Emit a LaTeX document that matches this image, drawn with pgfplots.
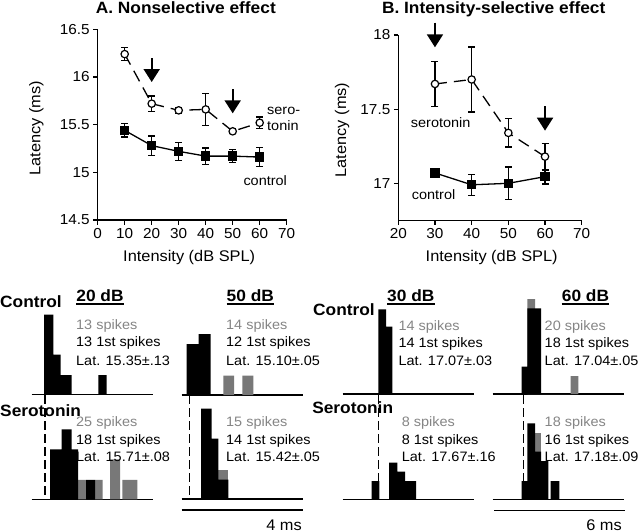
\documentclass[border=0pt]{standalone}
\usepackage{fontspec}
\setmainfont{Liberation Sans}[FakeStretch=1.06]
\usepackage{pgfplots}
\pgfplotsset{compat=1.18}
\usetikzlibrary{arrows.meta}
\definecolor{histgray}{gray}{0.47}
\definecolor{txtgray}{gray}{0.52}
\newcommand\fTick{\fontsize{14.5}{17}\selectfont}
\newcommand\fLab{\fontsize{15.5}{18}\selectfont}
\newcommand\fTxt{\fontsize{13.7}{16}\selectfont}
\newcommand\fBold{\fontsize{16.4}{19}\selectfont\bfseries}
\pgfplotsset{
  lat/.style={scale only axis, anchor=south west, axis lines=left,
    axis line style={-, line width=1.3bp},
    major tick style={line width=1.3bp, black}, tick align=outside,
    major tick length=4.5bp,
    tick label style={font=\fTick},
    /pgf/number format/assume math mode=true, clip=false},
  hist/.style={scale only axis, anchor=south west, axis x line=bottom,
    axis y line=none, axis line style={-, line width=1.3bp},
    xtick=\empty, ytick=\empty, ymin=0, ymax=100, height=100bp, clip=false},
  ctrl/.style={black, line width=1.3bp, mark=square*, mark size=4bp,
    mark options={solid},
    error bars/.cd, y dir=both, y explicit,
    error bar style={line width=1.3bp, solid},
    error mark options={rotate=90, mark size=3.5bp, line width=1.3bp, solid}},
  sero/.style={black, line width=1.3bp, dash pattern=on 12bp off 7bp,
    mark=*, mark size=3.7bp, mark options={solid, fill=white, line width=1.2bp},
    error bars/.cd, y dir=both, y explicit,
    error bar style={line width=1.3bp, solid},
    error mark options={rotate=90, mark size=3.5bp, line width=1.3bp, solid}},
  hblack/.style={ybar interval, fill=black, draw=none},
  hgray/.style={ybar interval, fill=histgray, draw=none},
}
\begin{document}
\begin{tikzpicture}
\path[use as bounding box] (0,0) rectangle (640bp,-532bp);

% ---------- Panel A ----------
\begin{axis}[lat, at={(97.7bp,-220bp)}, width=189bp, height=190.7bp,
  xmin=0, xmax=70, ymin=14.5, ymax=16.5,
  xtick={0,10,...,70}, ytick={14.5,15,15.5,16,16.5}]
\addplot[sero] table[x=x, y=y, y error=e, row sep=\\] {
x y e \\ 10 16.24 0.07 \\ 20 15.72 0.08 \\ 30 15.65 0.03 \\ 40 15.66 0.17 \\ 50 15.43 0.02 \\ 60 15.52 0.06 \\ };
\addplot[ctrl] table[x=x, y=y, y error=e, row sep=\\] {
x y e \\ 10 15.44 0.07 \\ 20 15.28 0.10 \\ 30 15.22 0.095 \\ 40 15.17 0.085 \\ 50 15.17 0.07 \\ 60 15.16 0.10 \\ };
\draw[line width=2bp, -{Triangle[length=13bp, width=16bp]}] (axis cs:20,16.199) -- (axis cs:20,15.947);
\draw[line width=2bp, -{Triangle[length=13bp, width=16bp]}] (axis cs:50,15.871) -- (axis cs:50,15.619);
\end{axis}

% ---------- Panel B ----------
\begin{axis}[lat, at={(398.3bp,-220.4bp)}, width=183.4bp, height=185.4bp,
  xmin=20, xmax=70, ymin=16.75, ymax=18,
  xtick={20,30,...,70}, ytick={17,17.5,18}]
\addplot[sero] table[x=x, y=y, y error=e, row sep=\\] {
x y e \\ 30 17.67 0.15 \\ 40 17.70 0.22 \\ 50 17.34 0.095 \\ 60 17.18 0.09 \\ };
\addplot[ctrl] table[x=x, y=y, y error=e, row sep=\\] {
x y e \\ 30 17.07 0.025 \\ 40 16.99 0.07 \\ 50 17.00 0.11 \\ 60 17.045 0.05 \\ };
\draw[line width=2bp, -{Triangle[length=13bp, width=16bp]}] (axis cs:30,18.083) -- (axis cs:30,17.917);
\draw[line width=2bp, -{Triangle[length=13bp, width=16bp]}] (axis cs:60,17.521) -- (axis cs:60,17.355);
\end{axis}

% ---------- Histograms ----------
\begin{axis}[hist, at={(31.7bp,-394.5bp)}, width=121.6bp, xmin=31.7, xmax=153.3]
\addplot[hblack] coordinates {(44,80) (53.3,40) (60.7,19.5) (71.7,0) (98.3,19.5) (106.7,0)};
\end{axis}
\begin{axis}[hist, at={(181.7bp,-395bp)}, width=121bp, xmin=181.7, xmax=302.7]
\addplot[hgray] coordinates {(223.3,19.5) (234,0) (242.3,19.5) (253.3,0)};
\addplot[hblack] coordinates {(186.7,51) (198.7,61) (210.7,0)};
\end{axis}
\begin{axis}[hist, at={(31.7bp,-499.3bp)}, width=121.6bp, xmin=31.7, xmax=153.3]
\addplot[hgray] coordinates {(78,19.5) (86,0) (95,19.5) (102.7,0) (110,40) (120,0) (122.3,19.5) (137.3,0)};
\addplot[hblack] coordinates {(50,50) (61.7,70) (71.7,50) (78,0) (86,19.5) (95,0)};
\end{axis}
\begin{axis}[hist, at={(181.7bp,-499bp)}, width=121bp, xmin=181.7, xmax=302.7]
\addplot[hgray] coordinates {(218.3,29.5) (228.3,0)};
\addplot[hblack] coordinates {(201,90.5) (211.7,60.5) (218.3,19.5) (228.3,0)};
\end{axis}
\begin{axis}[hist, at={(342.7bp,-394bp)}, width=131.3bp, xmin=342.7, xmax=474]
\addplot[hblack] coordinates {(378.3,84.7) (386,67.3) (392.3,0)};
\end{axis}
\begin{axis}[hist, at={(492.7bp,-394bp)}, width=131.3bp, xmin=492.7, xmax=624]
\addplot[hgray] coordinates {(527.3,95) (535,0) (570.7,18) (578.3,0)};
\addplot[hblack] coordinates {(521.7,27.3) (527.3,85.7) (541,0)};
\end{axis}
\begin{axis}[hist, at={(342.7bp,-499.3bp)}, width=131.3bp, xmin=342.7, xmax=474]
\addplot[hblack] coordinates {(371.7,18.3) (379.3,0) (389,36.7) (397.3,27.7) (405,18.3) (416,0)};
\end{axis}
\begin{axis}[hist, at={(492.7bp,-499.3bp)}, width=131.3bp, xmin=492.7, xmax=624]
\addplot[hgray] coordinates {(535,66) (541,0)};
\addplot[hblack] coordinates {(521.7,18.3) (527.3,76) (535,47.7) (541,38.3) (548.3,0) (550.7,18.3) (559.3,0)};
\end{axis}

% dashed onset lines
\foreach \xx in {45,189.3,378.7,523.3}
  \draw[line width=1.3bp, dash pattern=on 9bp off 4bp] (\xx bp,-395bp) -- (\xx bp,-499bp);
% scale bars
\draw[line width=1.3bp] (181.7bp,-510bp) -- (302.7bp,-510bp);
\draw[line width=1.3bp] (494bp,-510.7bp) -- (625bp,-510.7bp);
\node[anchor=base east, inner sep=0, font=\fLab] at (302bp,-530bp) {4 ms};
\node[anchor=base east, inner sep=0, font=\fLab] at (622bp,-530bp) {6 ms};

% titles and axis labels
\node[anchor=base, inner sep=0, font=\fBold] at (185.8bp,-13.3bp) {A. Nonselective effect};
\node[anchor=base, inner sep=0, font=\fBold] at (493.7bp,-13.3bp) {B. Intensity-selective effect};
\node[anchor=base, inner sep=0, font=\fLab] at (189.2bp,-261.8bp) {Intensity (dB SPL)};
\node[anchor=base, inner sep=0, font=\fLab] at (491.7bp,-261.8bp) {Intensity (dB SPL)};
\node[anchor=base, inner sep=0, font=\fLab, rotate=90] at (40.4bp,-128.3bp) {Latency (ms)};
\node[anchor=base, inner sep=0, font=\fLab, rotate=90] at (346.1bp,-130bp) {Latency (ms)};

% curve labels
\node[anchor=base west, inner sep=0, font=\fTxt] at (267bp,-114bp) {sero-};
\node[anchor=base west, inner sep=0, font=\fTxt] at (267bp,-130.7bp) {tonin};
\node[anchor=base west, inner sep=0, font=\fTxt] at (243.3bp,-185bp) {control};
\node[anchor=base west, inner sep=0, font=\fTxt] at (410.7bp,-127.3bp) {serotonin};
\node[anchor=base west, inner sep=0, font=\fTxt] at (411.7bp,-199bp) {control};

% histogram headings
\node[anchor=base west, inner sep=0, font=\fBold] at (0bp,-307.3bp) {Control};
\node[anchor=base west, inner sep=0, font=\fBold] at (0bp,-416.7bp) {Serotonin};
\node[anchor=base east, inner sep=0, font=\fBold] at (375bp,-315bp) {Control};
\node[anchor=base east, inner sep=0, font=\fBold] at (393.3bp,-413.3bp) {Serotonin};
\foreach \xx/\tt in {100/20 dB, 250.3/50 dB, 410.8/30 dB, 585.5/60 dB}{
  \node[anchor=base, inner sep=0, font=\fBold] (h) at (\xx bp,-301.7bp) {\tt};
  \draw[line width=1.4bp] ([yshift=-2.3bp]h.base west) -- ([yshift=-2.3bp]h.base east);
}

% histogram texts
\begin{scope}[every node/.style={anchor=base west, inner sep=0, font=\fTxt}]
\node[txtgray] at (76bp,-329.3bp) {13 spikes};
\node at (76bp,-346.7bp) {13 1st spikes};
\node at (76bp,-365bp) {Lat. 15.35±.13};
\node[txtgray] at (226bp,-329.3bp) {14 spikes};
\node at (226bp,-346.7bp) {12 1st spikes};
\node at (226bp,-365bp) {Lat. 15.10±.05};
\node[txtgray] at (76bp,-426.7bp) {25 spikes};
\node at (76bp,-444bp) {18 1st spikes};
\node at (76bp,-461.7bp) {Lat. 15.71±.08};
\node[txtgray] at (226bp,-426.7bp) {15 spikes};
\node at (226bp,-444bp) {14 1st spikes};
\node at (226bp,-461.7bp) {Lat. 15.42±.05};
\node[txtgray] at (398.3bp,-330bp) {14 spikes};
\node at (398.3bp,-347.7bp) {14 1st spikes};
\node at (398.3bp,-365.7bp) {Lat. 17.07±.03};
\node[txtgray] at (544.5bp,-330bp) {20 spikes};
\node at (544.5bp,-347.7bp) {18 1st spikes};
\node at (544.5bp,-365.7bp) {Lat. 17.04±.05};
\node[txtgray] at (401.7bp,-426.7bp) {8 spikes};
\node at (401.7bp,-444.3bp) {8 1st spikes};
\node at (401.7bp,-461.7bp) {Lat. 17.67±.16};
\node[txtgray] at (544.5bp,-426.7bp) {18 spikes};
\node at (544.5bp,-444.3bp) {16 1st spikes};
\node at (544.5bp,-461.7bp) {Lat. 17.18±.09};
\end{scope}
\end{tikzpicture}
\end{document}
